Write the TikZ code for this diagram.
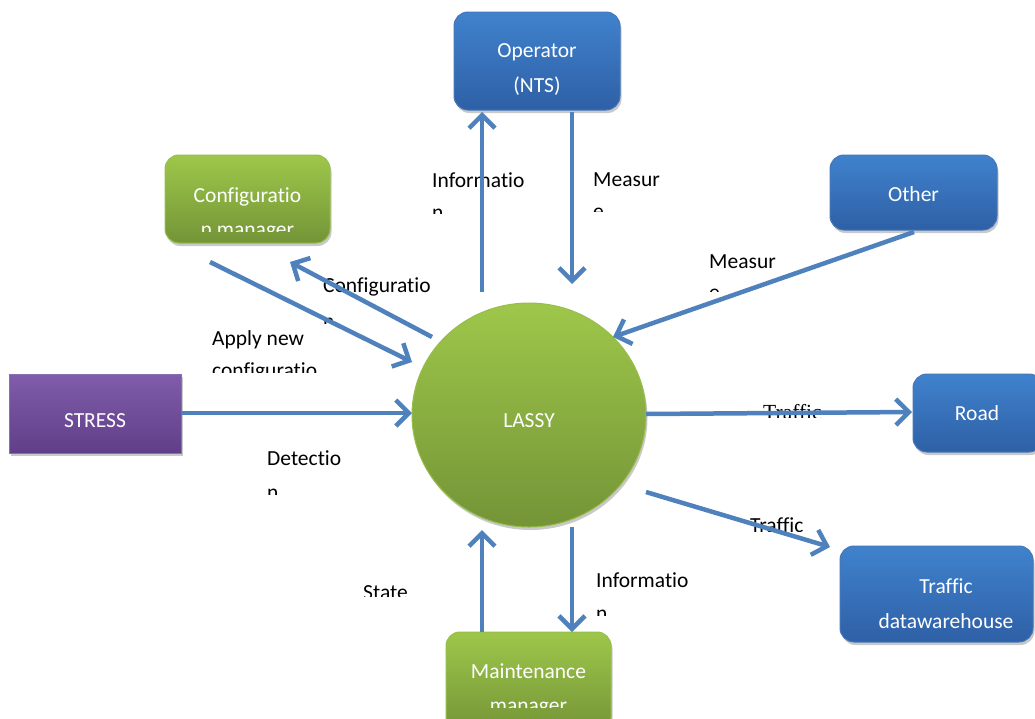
\documentclass[tikz,border=0pt]{standalone}
\usepackage{fontspec}
\setmainfont{Carlito}[Ligatures=NoCommon]
\newfontfamily\timesfont{Liberation Serif}[Ligatures=NoCommon]
\usetikzlibrary{arrows.meta,shapes.geometric,shadows}
\definecolor{arrowblue}{RGB}{79,129,189}
\definecolor{bluetop}{RGB}{64,130,205}
\definecolor{bluebot}{RGB}{46,96,166}
\definecolor{blueedge}{RGB}{70,120,185}
\definecolor{greentop}{RGB}{158,199,74}
\definecolor{greenbot}{RGB}{116,148,55}
\definecolor{greenedge}{RGB}{150,190,75}
\definecolor{purptop}{RGB}{128,92,170}
\definecolor{purpbot}{RGB}{96,63,136}
\definecolor{purpedge}{RGB}{140,110,180}
\begin{document}
\begin{tikzpicture}[x=1pt,y=-1pt,
  shad/.style={drop shadow={shadow xshift=1.5pt,shadow yshift=-3pt,opacity=0.35,fill=black!60}},
  bluebox/.style={rounded corners=14pt,draw=blueedge,line width=1pt,top color=bluetop,bottom color=bluebot,shad,inner sep=0pt},
  greenbox/.style={rounded corners=14pt,draw=greenedge,line width=1pt,top color=greentop,bottom color=greenbot,shad,inner sep=0pt},
  purpbox/.style={draw=purpedge,line width=1pt,top color=purptop,bottom color=purpbot,shad,inner sep=0pt},
  wtxt/.style={text=white,font=\fontsize{21.5}{35}\selectfont,align=center,inner sep=0pt},
  lbl/.style={text=black,font=\fontsize{21.5}{34}\selectfont,inner sep=0pt,anchor=base west},
  arr/.style={draw=arrowblue,line width=4.5pt,-{Straight Barb[length=13pt,width=26pt]}}
]
\clip (0,0) rectangle (1035,718);
\fill[white] (0,0) rectangle (1035,718);

% ---- labels (drawn below the arrows)
\begin{scope}\clip (420,150) rectangle (560,213);
\node[lbl] (infoA) at (432,187) {Informatio};
\node[lbl] (infoAb) at (432,219) {n};
\end{scope}
\begin{scope}\clip (585,150) rectangle (700,211);
\node[lbl] (measA) at (593,186) {Measur};
\node[lbl] (measAb) at (593,218) {e};
\end{scope}
\begin{scope}\clip (315,260) rectangle (450,323);
\node[lbl] (confA) at (323,292) {Configuratio};
\node[lbl] (confAb) at (323,328) {n};
\end{scope}
\begin{scope}\clip (200,315) rectangle (360,372);
\node[lbl] (apply) at (212,345) {Apply new};
\node[lbl] (applyb) at (212,377) {configuratio};
\end{scope}
\begin{scope}\clip (700,235) rectangle (820,291);
\node[lbl] (measB) at (709,268) {Measur};
\node[lbl] (measBb) at (709,299) {e};
\end{scope}
\begin{scope}\clip (755,395) rectangle (850,417);
\node[lbl,font=\timesfont\fontsize{21.5}{34}\selectfont] (trafA) at (763,419) {Traffic};
\end{scope}
\begin{scope}\clip (740,505) rectangle (840,531);
\node[lbl] (trafB) at (750,532) {Traffic};
\end{scope}
\begin{scope}\clip (255,435) rectangle (380,494);
\node[lbl] (detect) at (267,465) {Detectio};
\node[lbl] (detectb) at (267,499) {n};
\end{scope}
\begin{scope}\clip (355,570) rectangle (440,596);
\node[lbl] (state) at (363,599) {State};
\end{scope}
\begin{scope}\clip (588,555) rectangle (720,615);
\node[lbl] (infoB) at (596,587) {Informatio};
\node[lbl] (infoBb) at (596,620) {n};
\end{scope}

% ---- boxes
\node[bluebox,minimum width=166pt,minimum height=98pt] (opr) at (537,61) {};
\node[wtxt] (oprt) at (537,70) {Operator\\(NTS)};

\node[greenbox,minimum width=165pt,minimum height=88pt] (cfg) at (247.5,199) {};
\begin{scope}\clip (170,160) rectangle (325,231);
\node[wtxt,anchor=base] (cfgt) at (247.5,202) {Configuratio};
\node[wtxt,anchor=base] (cfgtb) at (247.5,236) {n manager};
\end{scope}

\node[bluebox,minimum width=167pt,minimum height=75pt] (oth) at (913.5,192.5) {};
\node[wtxt] (otht) at (913.5,194) {Other};

\node[purpbox,minimum width=172pt,minimum height=79pt] (str) at (95,413.5) {};
\node[wtxt] (strt) at (95,421) {STRESS};

\node[ellipse,draw=greenedge,line width=1pt,top color=greentop,bottom color=greenbot,shad,minimum width=234pt,minimum height=224pt,inner sep=0pt] (lassy) at (529,415) {};
\node[wtxt] (lassyt) at (529,421) {LASSY};

\node[bluebox,minimum width=130pt,minimum height=78pt] (road) at (978,413) {};
\node[wtxt] (roadt) at (977,413) {Road};

\node[bluebox,minimum width=193pt,minimum height=96pt] (dw) at (936.5,594) {};
\node[wtxt] (dwt) at (946,604) {Traffic\\datawarehouse};

\node[greenbox,minimum width=165pt,minimum height=100pt] (mnt) at (528.5,682) {};
\begin{scope}\clip (450,640) rectangle (608,707);
\node[wtxt,anchor=base] (mntt) at (528.5,678) {Maintenance};
\node[wtxt,anchor=base] (mnttb) at (528.5,712) {manager};
\end{scope}

% ---- connector end points
\coordinate (a1s) at (482,292); \coordinate (a1e) at (482,112);
\coordinate (a2s) at (572,112); \coordinate (a2e) at (572,284);
\coordinate (a3s) at (432,337); \coordinate (a3e) at (290,262);
\coordinate (a4s) at (210,262); \coordinate (a4e) at (412,362);
\coordinate (a5s) at (181,413); \coordinate (a5e) at (412,413);
\coordinate (a6s) at (914,232); \coordinate (a6e) at (613,337);
\coordinate (a7s) at (646,414); \coordinate (a7e) at (912,412);
\coordinate (a8s) at (646,492); \coordinate (a8e) at (830,547);
\coordinate (a9s) at (482,632); \coordinate (a9e) at (482,530);
\coordinate (a10s) at (572,527); \coordinate (a10e) at (572,632);

\draw[arr] (a1s) -- (a1e);
\draw[arr] (a2s) -- (a2e);
\draw[arr] (a3s) -- (a3e);
\draw[arr] (a4s) -- (a4e);
\draw[arr] (a5s) -- (a5e);
\draw[arr] (a6s) -- (a6e);
\draw[arr] (a7s) -- (a7e);
\draw[arr] (a8s) -- (a8e);
\draw[arr] (a9s) -- (a9e);
\draw[arr] (a10s) -- (a10e);
\end{tikzpicture}
\end{document}
